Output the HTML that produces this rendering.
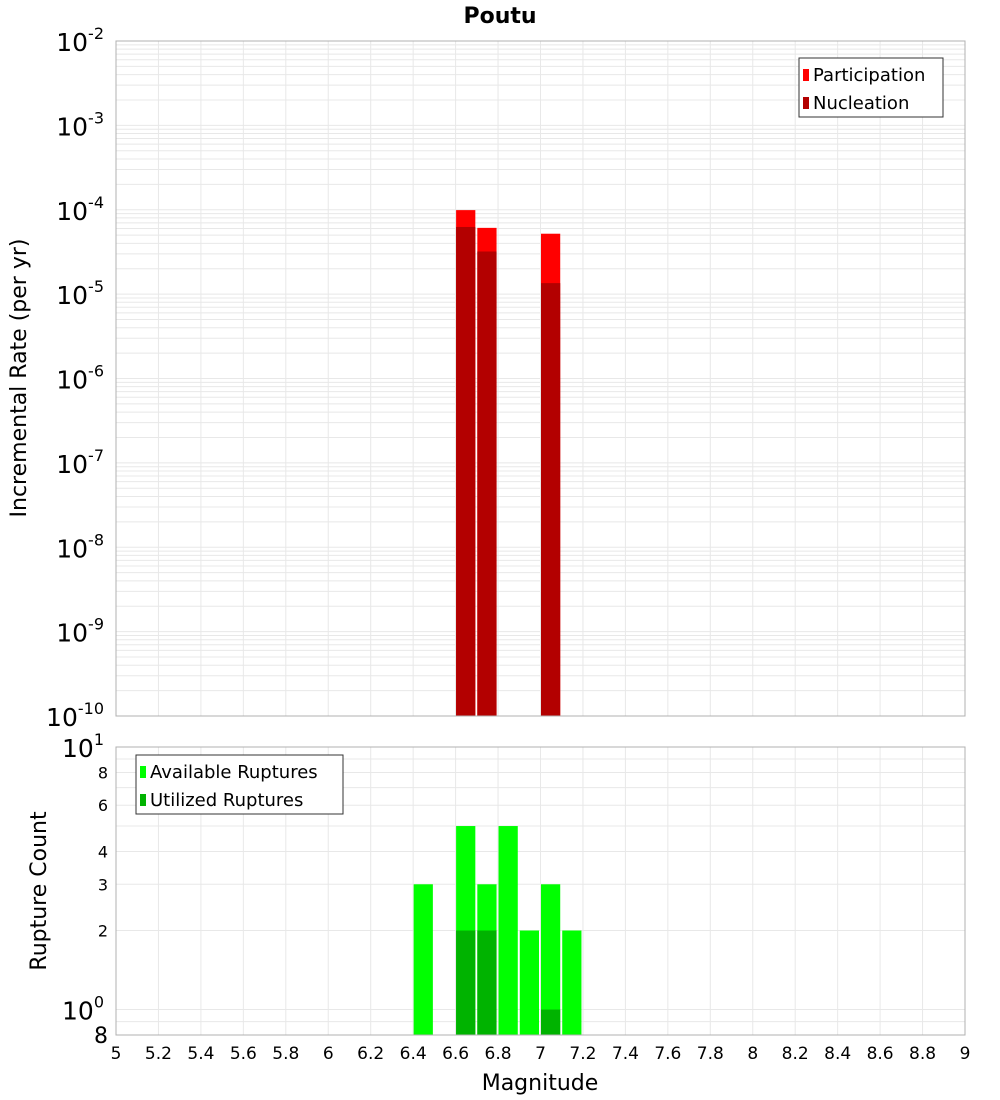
<!DOCTYPE html>
<html><head><meta charset="utf-8"><style>body{margin:0;background:#fff}svg{display:block;font-family:"DejaVu Sans","Liberation Sans",sans-serif}</style></head>
<body>
<svg id="c" width="1000" height="1100" xmlns="http://www.w3.org/2000/svg"></svg>
<script>
const binCenters=[6.65,6.75,7.05];
const participation=[9.9e-5,6.1e-5,5.2e-5];
const nucleation=[6.25e-5,3.2e-5,1.35e-5];
const countBins=[6.45,6.65,6.75,6.85,6.95,7.05,7.15];
const available=[3,5,3,5,2,3,2];
const utilized=[0,2,2,0,0,1,0];
const xTicks=[5,5.2,5.4,5.6,5.8,6,6.2,6.4,6.6,6.8,7,7.2,7.4,7.6,7.8,8,8.2,8.4,8.6,8.8,9];
const topExps=[-2,-3,-4,-5,-6,-7,-8,-9,-10];
const botTicks=[8,6,4,3,2];

const svg=document.getElementById('c');
const NS='http://www.w3.org/2000/svg';
function el(t,a,p){const e=document.createElementNS(NS,t);for(const k in a)e.setAttribute(k,a[k]);(p||svg).appendChild(e);return e;}
const L=116,R=965;
const X=m=>L+(m-5)/4*(R-L);
const T0=41,T1=716;
const YT=v=>T0+(-2-Math.log10(v))/8*(T1-T0);
const B0=747,B1=1035;
const YB=v=>B1-(Math.log10(v)-Math.log10(0.8))/(1-Math.log10(0.8))*(B1-B0);

let t=el('text',{x:500,y:23,'text-anchor':'middle','font-size':22,'font-weight':'bold'});t.textContent='Poutu';


const gTop=el('g',{});
for(let e=-10;e<-2;e++)for(let k=1;k<10;k++){const y=YT(k*Math.pow(10,e));el('line',{x1:L,x2:R,y1:y,y2:y,stroke:'#e8e8e8'},gTop);}
xTicks.forEach(m=>{el('line',{x1:X(m),x2:X(m),y1:T0,y2:T1,stroke:'#e8e8e8'},gTop);el('line',{x1:X(m),x2:X(m),y1:B0,y2:B1,stroke:'#e8e8e8'},gTop);});
for(let v=1;v<=10;v++){const y=YB(v);el('line',{x1:L,x2:R,y1:y,y2:y,stroke:'#e8e8e8'},gTop);}
el('line',{x1:L,x2:R,y1:YB(0.9),y2:YB(0.9),stroke:'#e8e8e8'},gTop);

const w=(R-L)/40;
binCenters.forEach((m,i)=>{
 let r=el('rect',{x:X(m)-w/2+0.5,y:YT(participation[i]),width:w-2,height:T1-YT(participation[i]),fill:'#ff0000'});
 
 r=el('rect',{x:X(m)-w/2+0.5,y:YT(nucleation[i]),width:w-2,height:T1-YT(nucleation[i]),fill:'#b30000'});
 
});
countBins.forEach((m,i)=>{
 let r=el('rect',{x:X(m)-w/2+0.5,y:YB(available[i]),width:w-2,height:B1-YB(available[i]),fill:'#00ff00'});
 
 if(utilized[i]>0){r=el('rect',{x:X(m)-w/2+0.5,y:YB(utilized[i]),width:w-2,height:B1-YB(utilized[i]),fill:'#00b300'});
 }
});

let f=el('rect',{x:L,y:T0,width:R-L,height:T1-T0,fill:'none',stroke:'#b0b0b0'});
f=el('rect',{x:L,y:B0,width:R-L,height:B1-B0,fill:'none',stroke:'#b0b0b0'});

topExps.forEach(e=>{const y=YT(Math.pow(10,e));
 const tx=el('text',{x:104,y:y+10,'text-anchor':'end','font-size':25});
 
 tx.innerHTML='10<tspan dy="-12" font-size="16">'+e+'</tspan>';});
let tx=el('text',{x:104,y:B0+10,'text-anchor':'end','font-size':25});tx.innerHTML='10<tspan dy="-12" font-size="16">1</tspan>';

tx=el('text',{x:104,y:YB(1)+10,'text-anchor':'end','font-size':25});tx.innerHTML='10<tspan dy="-12" font-size="16">0</tspan>';

tx=el('text',{x:108,y:B1+8,'text-anchor':'end','font-size':22});tx.textContent='8';

botTicks.forEach(v=>{const t=el('text',{x:108,y:YB(v)+6,'text-anchor':'end','font-size':16});t.textContent=v;
 });

xTicks.forEach(m=>{const t=el('text',{x:X(m),y:1059,'text-anchor':'middle','font-size':17});t.textContent=String(m);
 });
t=el('text',{x:540,y:1090,'text-anchor':'middle','font-size':22});t.textContent='Magnitude';

t=el('text',{x:0,y:0,'text-anchor':'middle','font-size':22,transform:'translate(26,378) rotate(-90)'});t.textContent='Incremental Rate (per yr)';

t=el('text',{x:0,y:0,'text-anchor':'middle','font-size':22,transform:'translate(46,891) rotate(-90)'});t.textContent='Rupture Count';


function legend(x,y,wd,items,name){
 const g=el('g',{});
 el('rect',{x:x,y:y,width:wd,height:59,fill:'#fff',stroke:'#333'},g);
 items.forEach((it,i)=>{el('rect',{x:x+4,y:y+11+i*28,width:6,height:12,fill:it[1]},g);
  const t=el('text',{x:x+14,y:y+23+i*28,'font-size':18},g);t.textContent=it[0];
  });
}
legend(799,58,144,[['Participation','#ff0000'],['Nucleation','#b30000']],'top-legend');
legend(136,755,207,[['Available Ruptures','#00ff00'],['Utilized Ruptures','#00b300']],'bottom-legend');
</script>
</body></html>
